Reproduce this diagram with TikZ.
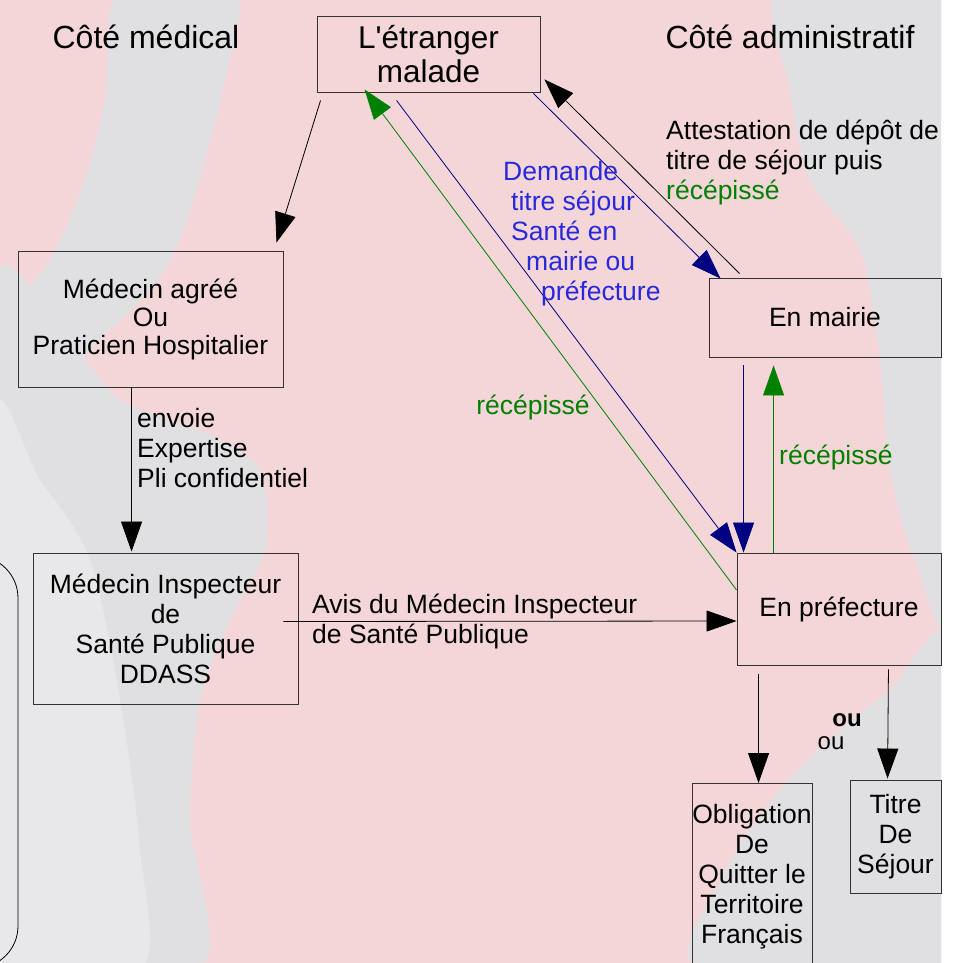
\documentclass[tikz,border=0pt]{standalone}
\usepackage{fontspec}
\setmainfont{Liberation Sans}
\newfontfamily\apfont{Liberation Sans}
\usetikzlibrary{arrows.meta,calc}
\definecolor{bgpink}{RGB}{244,214,216}
\definecolor{bggrey}{RGB}{224,224,227}
\definecolor{bgwhite}{RGB}{236,236,238}
\definecolor{navyline}{RGB}{0,0,128}
\definecolor{txtblue}{RGB}{40,40,220}
\definecolor{txtgreen}{RGB}{0,128,0}
\tikzset{
  box/.style={draw=black!80, line width=0.9pt, inner sep=0pt, align=center,
    font=\fontsize{26.5}{30}\selectfont},
  lbl/.style={inner sep=0pt, font=\fontsize{26.5}{30}\selectfont},
  head/.style={inner sep=0pt, font=\fontsize{32}{34}\selectfont},
  conn/.style={line width=0.8pt, -{Triangle[length=30pt,width=21pt]}},
}
\begin{document}
\begin{tikzpicture}[x=1pt,y=-1pt]
\useasboundingbox (0,0) rectangle (961,963);
% background
\fill[white] (0,0) rectangle (961,963);
\begin{scope}
\clip (0,0) rectangle (941,963);
\fill[bgpink] (0,0) rectangle (941,963);
\fill[bggrey] plot[smooth cycle] coordinates {(120,-10) (235,-10) (225,80) (205,160) (180,240) (150,290) (110,330) (60,380) (0,420) (0,330) (50,260) (85,180) (105,100)};
\fill[bggrey] plot[smooth cycle] coordinates {(-10,300) (60,330) (120,400) (200,430) (260,470) (265,550) (230,620) (200,700) (190,820) (200,970) (-10,970)};
\fill[bgwhite, opacity=0.7] plot[smooth cycle] coordinates {(-10,420) (40,480) (90,560) (120,700) (140,850) (140,970) (-10,970)};
\fill[bggrey] plot[smooth cycle] coordinates {(780,-10) (950,-10) (950,600) (915,560) (890,470) (880,360) (860,250) (810,180) (790,90)};
\fill[bggrey] plot[smooth cycle] coordinates {(950,640) (950,970) (700,970) (720,880) (780,790) (840,730) (890,690)};
\end{scope}
% bracket at left
\draw[line width=0.8pt, rounded corners=42pt] (-100,556) -- (18,556) -- (18,968) -- (-100,968);
% headers
\node[head] (hmed) at (146,37) {Côté médical};
\node[head] (hadm) at (790,37) {Côté administratif};
% boxes
\node[box, minimum width=223pt, minimum height=76pt, font=\fontsize{31.5}{34}\selectfont\apfont] (etr) at (428.5,54) {L'étranger\\malade};
\node[box, minimum width=265pt, minimum height=136pt, font=\fontsize{26.5}{28}\selectfont] (med) at (150.5,319) {Médecin agréé\\Ou\\Praticien Hospitalier};
\node[box, minimum width=265pt, minimum height=151pt] (insp) at (165.5,628.5) {Médecin Inspecteur\\de\\Santé Publique\\DDASS};
\node[box, minimum width=204pt, minimum height=112pt] (pref) at (839,609) {En préfecture};
\node[box, minimum width=232pt, minimum height=79pt] (mairie) at (825,317.5) {En mairie};
\node[box, minimum width=120pt, minimum height=200pt, anchor=north] (oblig) at (752,783) {};
\node[lbl, align=center] (obligt) at (752,877) {Obligation\\De\\Quitter le\\Territoire\\Français};
\node[box, minimum width=91pt, minimum height=113pt] (titre) at (895.5,836.5) {Titre\\De\\Séjour};
% connectors
\draw[conn] ($(etr.south west)+(4,8)$) -- ($(med.north east)+(-7,-8)$);
\draw[conn] ($(med.south west)+(114,0)$) -- ($(insp.north west)+(99,-1)$);
\draw[conn] ($(insp.east)+(-15,-7)$) -- ($(pref.west)+(0,12)$);
\draw[conn, navyline] ($(etr.south east)+(-7,1)$) -- ($(mairie.north west)+(12,1)$);
\draw[conn] ($(mairie.north west)+(31,-4)$) -- ($(etr.south east)+(4,-13)$);
\draw[conn, navyline] ($(etr.south west)+(80,8)$) -- ($(pref.north west)+(0,0)$);
\draw[conn, txtgreen] ($(pref.west)+(0,-19)$) -- ($(etr.south west)+(48,-3)$);
\draw[conn, navyline] ($(mairie.south west)+(35,8)$) -- ($(pref.north west)+(7,0)$);
\draw[conn, txtgreen] ($(pref.north west)+(37,0)$) -- ($(mairie.south west)+(65,8)$);
\draw[conn] ($(pref.south west)+(22,9)$) -- ($(oblig.north west)+(67,0)$);
\draw[conn] ($(pref.south east)+(-53,4)$) -- ($(titre.north west)+(38,-1)$);
% labels
\node[lbl, anchor=west, align=left] (latt) at (666,162) {Attestation de dépôt de\\titre de séjour puis\\\textcolor{txtgreen}{récépissé}};
\node[lbl, anchor=west, align=left, text=txtblue] (ldem) at (503,234) {Demande\\\hspace*{8pt}titre séjour\\\hspace*{8pt}Santé en\\\hspace*{23pt}mairie ou\\\hspace*{38pt}préfecture};
\node[lbl, anchor=west, align=left] (lenv) at (137,448) {envoie\\Expertise\\Pli confidentiel};
\node[lbl, anchor=west, align=left] (lavis) at (312,621) {Avis du Médecin Inspecteur\\de Santé Publique};
\node[lbl, text=txtgreen] (lrec1) at (533,407) {récépissé};
\node[lbl, anchor=west, text=txtgreen] (lrec2) at (779,457) {récépissé};
\node[lbl, font=\fontsize{24}{28}\selectfont\bfseries] (lou1) at (847,720) {ou};
\node[lbl, font=\fontsize{24}{28}\selectfont] (lou2) at (831,743) {ou};
\end{tikzpicture}
\end{document}
